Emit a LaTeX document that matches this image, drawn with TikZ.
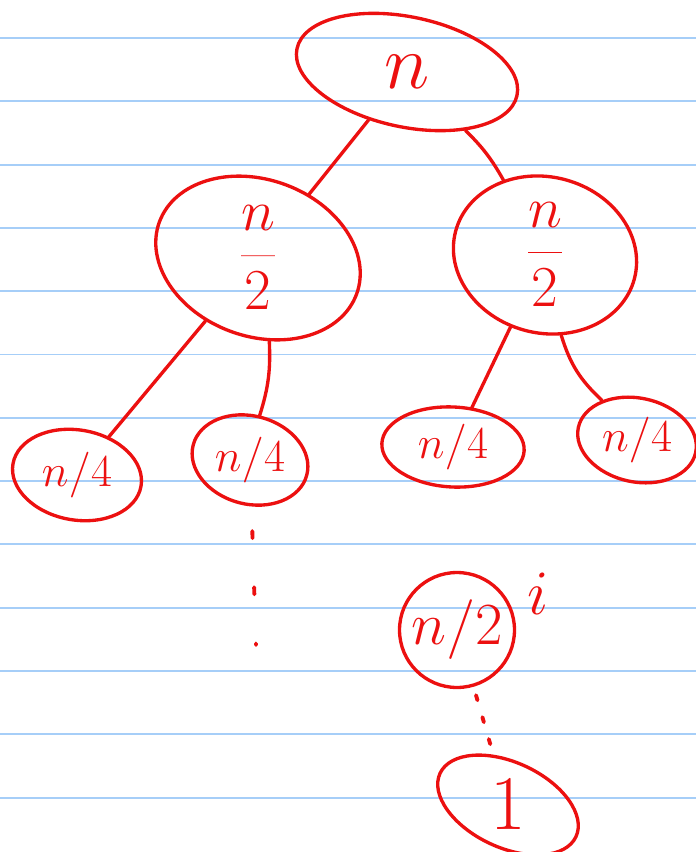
\RequirePackage{fix-cm}
\documentclass[tikz,border=0pt]{standalone}
\usetikzlibrary{shapes.geometric}
\definecolor{InkRed}{RGB}{236,16,16}
\definecolor{RuleBlue}{RGB}{166,206,248}

\begin{document}
\begin{tikzpicture}[x=0.02cm, y=-0.02cm, every node/.style={align=center, text=InkRed}]
\tikzset{
  bubble/.style={draw=InkRed, ellipse, line width=1.9pt, inner sep=0pt},
  ring/.style={draw=InkRed, circle, line width=1.9pt, inner sep=0pt, minimum size=2.3cm},
  link/.style={draw=InkRed, line width=1.9pt, line cap=round},
  trail/.style={draw=InkRed, line width=2.2pt, line cap=round},
  rule/.style={draw=RuleBlue, line width=1.1pt}
}
  \useasboundingbox (0,0) rectangle (696,852);
  \fill[white] (0,0) rectangle (696,852);
  % ruled paper
  \foreach \k in {0,...,12}
    \draw[rule] (0,{38+63.3*\k}) -- (696,{38+63.3*\k});

  \node[bubble, rotate=-12, minimum width=4.5cm, minimum height=2.2cm] (root) at (407,72)
    {\rotatebox{12}{\fontsize{44}{44}\selectfont$n$}};

  \node[bubble, rotate=-20, minimum width=4.2cm, minimum height=2.1cm] (half1) at (258,258)
    {\rotatebox{20}{\fontsize{33}{33}\selectfont$\displaystyle\frac{n}{2}$}};
  \node[bubble, rotate=-15, minimum width=3.7cm, minimum height=2.0cm] (half2) at (545,255)
    {\rotatebox{15}{\fontsize{33}{33}\selectfont$\displaystyle\frac{n}{2}$}};
  \draw[link] (root) -- (half1);
  \draw[link] (root) to[bend left=8] (half2);

  \node[bubble, rotate=-10, minimum width=2.6cm, minimum height=1.8cm] (q1) at (77,475)
    {\rotatebox{10}{\fontsize{26}{26}\selectfont$n/4$}};
  \node[bubble, rotate=-15, minimum width=2.35cm, minimum height=1.65cm] (q2) at (250,460)
    {\rotatebox{15}{\fontsize{26}{26}\selectfont$n/4$}};
  \node[bubble, rotate=-3, minimum width=2.85cm, minimum height=1.6cm] (q3) at (453,447)
    {\rotatebox{3}{\fontsize{26}{26}\selectfont$n/4$}};
  \node[bubble, rotate=-12, minimum width=2.4cm, minimum height=1.6cm] (q4) at (637,440)
    {\rotatebox{12}{\fontsize{26}{26}\selectfont$n/4$}};
  \draw[link] (half1) -- (q1);
  \draw[link] (half1) to[bend left=10] (q2);
  \draw[link] (half2) -- (q3);
  \draw[link] (half2) to[bend right=15] (q4);

  % deeper levels
  \coordinate (gap) at (256,645);
  \draw[trail, dash pattern=on 4pt off 28pt, dash phase=18pt] (q2) -- (gap);

  \node[ring, label={[text=InkRed, label distance=3pt]8:\fontsize{36}{36}\selectfont$i$}] (deep) at (457,630)
    {\fontsize{34}{34}\selectfont$n/2$};
  \node[bubble, rotate=-25, minimum width=3.0cm, minimum height=1.7cm] (one) at (508,805)
    {\rotatebox{25}{\fontsize{44}{44}\selectfont$1$}};
  \draw[trail, dash pattern=on 3pt off 10pt, dash phase=8pt] (deep) -- (one);
\end{tikzpicture}
\end{document}
